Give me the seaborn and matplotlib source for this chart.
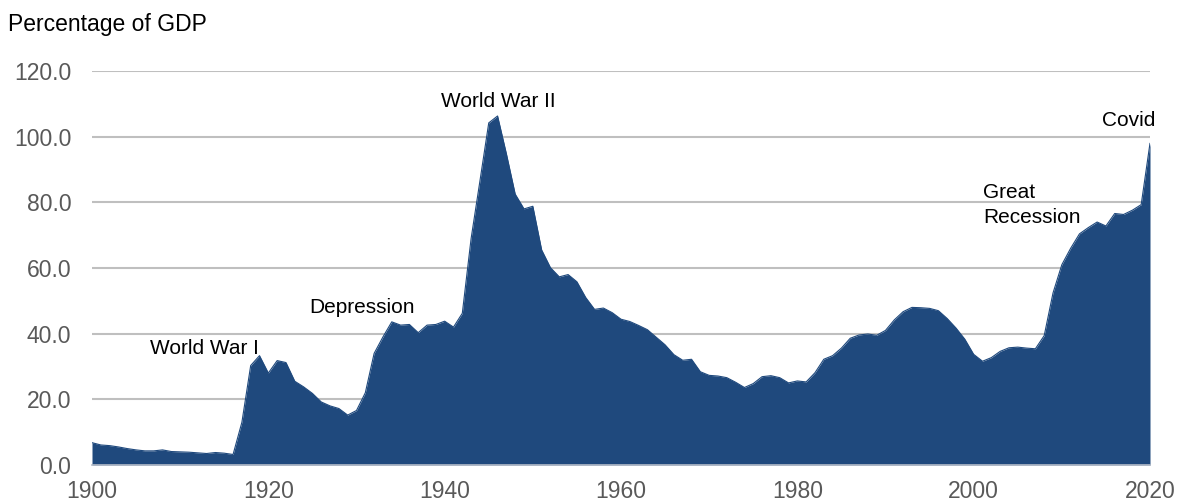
import numpy as np
import pandas as pd
import matplotlib
matplotlib.use("Agg")
import matplotlib.pyplot as plt
import seaborn as sns

years = list(range(1900, 2021))
debt = [
    6.8, 6.1, 5.9, 5.5, 5.0, 4.6, 4.3, 4.3, 4.6, 4.1,
    4.0, 3.9, 3.7, 3.5, 3.8, 3.6, 3.2, 13.0, 30.3, 33.3,
    28.0, 31.8, 31.2, 25.5, 23.8, 21.8, 19.2, 18.0, 17.2, 15.2,
    16.6, 22.0, 34.0, 39.0, 43.6, 42.6, 42.8, 40.3, 42.6, 42.8,
    43.8, 42.0, 46.2, 69.0, 86.5, 104.2, 106.3, 94.8, 82.5, 78.0,
    78.8, 65.5, 60.1, 57.3, 58.0, 55.8, 51.0, 47.4, 47.8, 46.4,
    44.4, 43.7, 42.5, 41.2, 38.9, 36.6, 33.6, 31.9, 32.2, 28.4,
    27.3, 27.1, 26.6, 25.2, 23.6, 24.8, 26.9, 27.2, 26.6, 25.0,
    25.6, 25.3, 28.1, 32.2, 33.3, 35.6, 38.6, 39.6, 39.9, 39.5,
    41.0, 44.2, 46.7, 48.0, 47.9, 47.7, 47.0, 44.6, 41.7, 38.3,
    33.7, 31.6, 32.7, 34.6, 35.7, 35.9, 35.6, 35.4, 39.4, 52.4,
    61.0, 66.0, 70.4, 72.3, 74.0, 72.8, 76.6, 76.3, 77.6, 79.3,
    98.0,
]
df = pd.DataFrame({"year": years, "debt": debt})

x_ticks = [1900, 1920, 1940, 1960, 1980, 2000, 2020]
y_ticks = [0, 20, 40, 60, 80, 100, 120]

labels = ["World War I", "Depression", "World War II", "Great", "Recession", "Covid"]
label_x = [1912.8, 1930.6, 1946.1, 2001.1, 2001.1, 2014.5]
label_y = [33.8, 46.3, 109.1, 81.2, 73.6, 103.4]
label_ha = ["center", "center", "center", "left", "left", "left"]

sns.set_theme(style="white")
plt.rcParams["font.family"] = ["Liberation Sans", "DejaVu Sans"]

fig = plt.figure(figsize=(11.77, 5.04), dpi=100)
ax = fig.add_axes([92/1177, 39/504, (1150-92)/1177, (465-71)/504])

fill_color = "#1f497d"
ax.fill_between(df["year"], 0, df["debt"], color=fill_color, linewidth=0, zorder=2)
sns.lineplot(data=df, x="year", y="debt", ax=ax, color=fill_color, linewidth=0.8, zorder=3)

ax.set_xlim(1900, 2020)
ax.set_ylim(0, 120)
ax.set_xticks(x_ticks)
ax.set_yticks(y_ticks)
ax.set_yticklabels([f"{v:.1f}" for v in y_ticks])
ax.set_xlabel("")
ax.set_ylabel("")
ax.grid(axis="y", color="#bfbfbf", linewidth=1.5, zorder=1)
ax.grid(axis="x", visible=False)
ax.set_axisbelow(True)
for s in ["left", "right", "top"]:
    ax.spines[s].set_visible(False)
ax.spines["bottom"].set_color("#b4bcc8")
ax.spines["bottom"].set_linewidth(1.2)
ax.tick_params(axis="both", length=0, labelsize=16.5, labelcolor="#595959")
ax.tick_params(axis="y", pad=15)
ax.tick_params(axis="x", pad=11)

for t, x, y, ha in zip(labels, label_x, label_y, label_ha):
    ax.text(x, y, t, ha=ha, va="baseline", fontsize=15, color="black")

fig.text(8/1177, 1 - 31/504, "Percentage of GDP", ha="left", va="baseline", fontsize=16.5, color="black")

fig.savefig("out.png", dpi=100)
